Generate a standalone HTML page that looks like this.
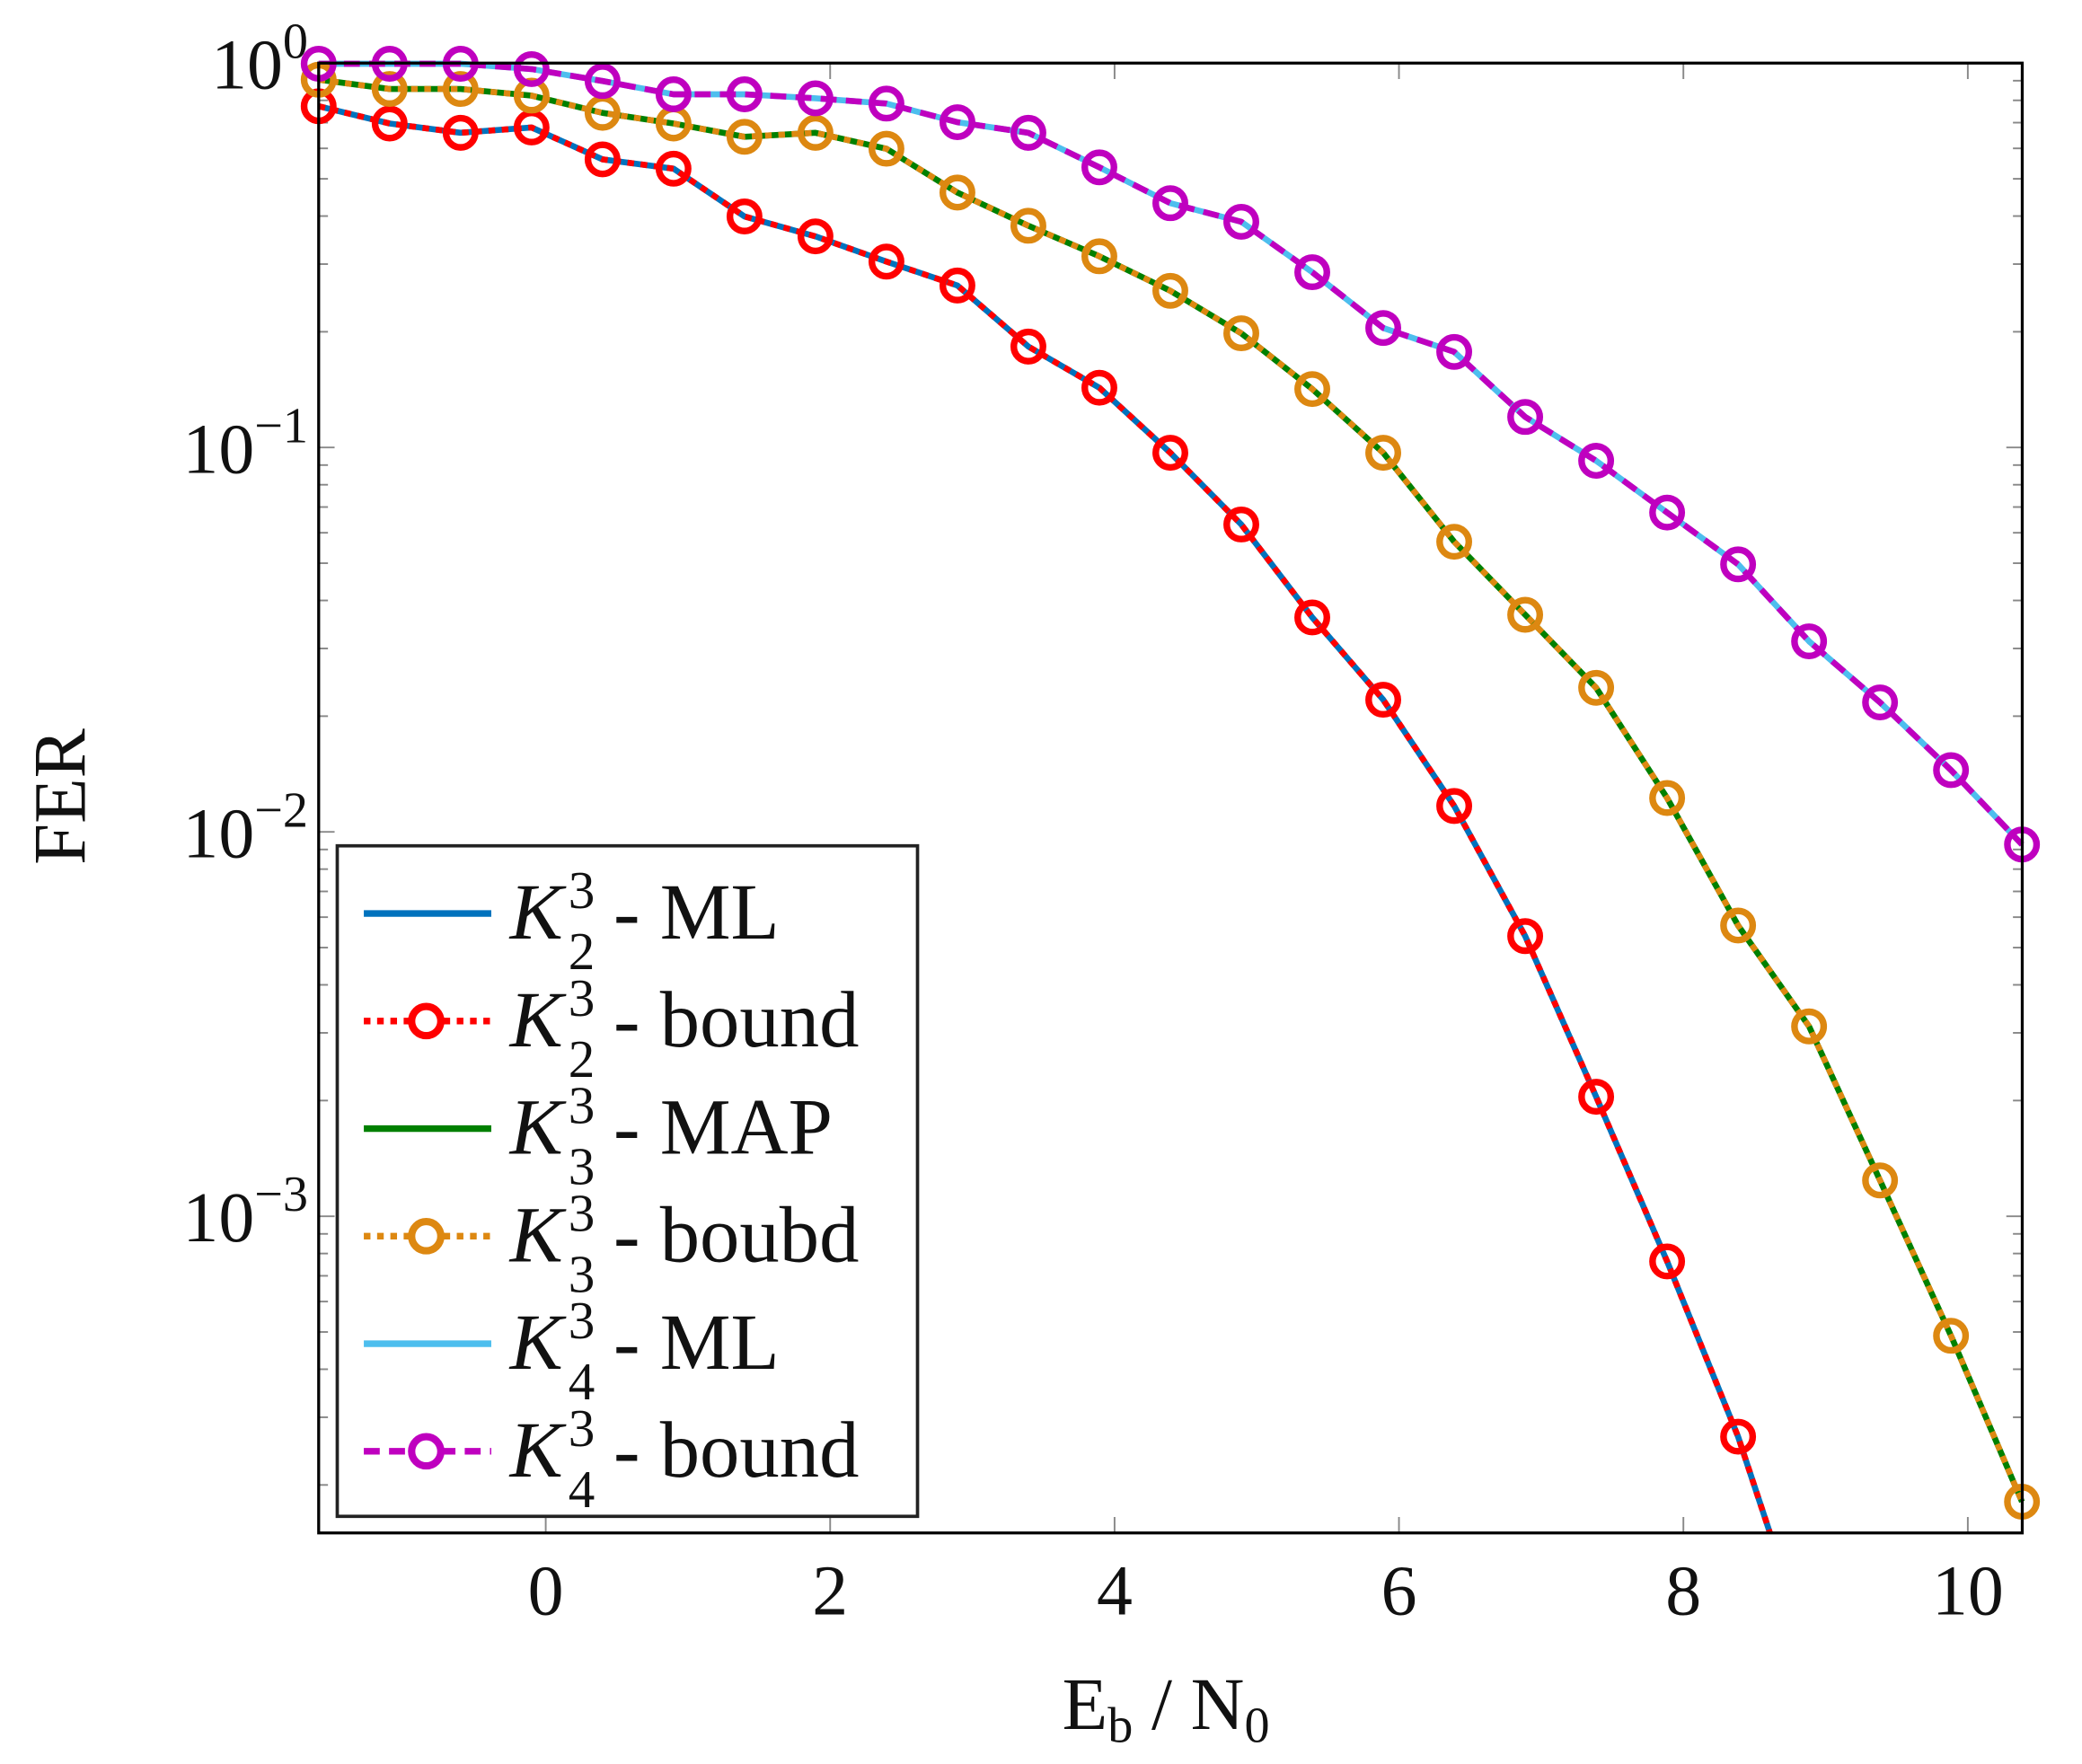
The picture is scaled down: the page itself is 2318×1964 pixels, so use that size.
<!DOCTYPE html>
<html><head><meta charset="utf-8"><style>html,body{margin:0;padding:0;background:#fff}svg{display:block}</style></head>
<body>
<svg id="s" xmlns="http://www.w3.org/2000/svg" width="2318" height="1964" viewBox="0 0 1568 1328.5" font-family="Liberation Serif, serif">
<rect x="0" y="0" width="1568" height="1328.5" fill="#fff"/>
<g id="ticks"></g>
<g id="series"></g>
<rect x="240" y="47.5" width="1283" height="1107" fill="none" stroke="#000" stroke-width="2.2"/>
<g id="labels" font-size="54" fill="#111"></g>
<g id="legend"></g>
</svg>
<script>
var NS="http://www.w3.org/2000/svg";
function el(p,t,a,txt){var e=document.createElementNS(NS,t);for(var k in a)e.setAttribute(k,a[k]);if(txt!=null)e.textContent=txt;p.appendChild(e);return e;}
var L=240,R=1523,T=47.5,B=1154.5,DEC=289.5;
function X(v){return 411+v*107.1;}
function Yd(d){return T-d*DEC;}
var tk=document.getElementById('ticks');
for(var v=0;v<=10;v+=2){var x=X(v);
 el(tk,'line',{x1:x,y1:B,x2:x,y2:B-12,stroke:'#888','stroke-width':1.3});
 el(tk,'line',{x1:x,y1:T,x2:x,y2:T+12,stroke:'#888','stroke-width':1.3});}
for(var d=0;d>=-4;d--){for(var m=1;m<=9;m++){var y=Yd(d+Math.log10(m));if(y<T-0.5||y>B)continue;var len=(m==1)?12:7;
 el(tk,'line',{x1:L,y1:y,x2:L+len,y2:y,stroke:'#888','stroke-width':1.3});
 el(tk,'line',{x1:R,y1:y,x2:R-len,y2:y,stroke:'#888','stroke-width':1.3});}}
var red=[80,93,100,96,120,127,163,178,197,215,261,292,341,395,465,527,607,705,826,950,1082];
var ora=[60,67,67,72,85,93,103,100,112,145,170,193,219,251,293,341,408,463,518,601,697,773,889,1006,1131];
var mag=[48,48,48,52,61,71,71,74,78,92,100,126,153,167,205,247,265,314,347,386,425,483,529,580,636];
function pts(a,extra){var s=[];for(var i=0;i<a.length;i++)s.push((L+i*53.45)+','+a[i]);if(extra)s.push(extra);return s.join(' ');}
var sg=document.getElementById('series');
var redExtra='1333,1154.5';
function line(p,col,dash){var a={points:p,fill:'none',stroke:col,'stroke-width':4.5,'stroke-linejoin':'round'};if(dash)a['stroke-dasharray']=dash;el(sg,'polyline',a);}
function marks(a,col){for(var i=0;i<a.length;i++)el(sg,'circle',{cx:L+i*53.45,cy:a[i],r:11,fill:'none',stroke:col,'stroke-width':5});}
line(pts(red,redExtra),'#0072BD');line(pts(red,redExtra),'#FF0000','5,5');
line(pts(ora),'#008000');line(pts(ora),'#DD8811','5,5');
line(pts(mag),'#4DBEEE');line(pts(mag),'#BF00BF','12,7');
marks(red,'#FF0000');marks(ora,'#DD8811');marks(mag,'#BF00BF');
var lb=document.getElementById('labels');
var xl=['0','2','4','6','8','10'];
for(var i=0;i<6;i++)el(lb,'text',{x:X(i*2),y:1216,'text-anchor':'middle'},xl[i]);
var yl=[[0,'0'],[-1,'−1'],[-2,'−2'],[-3,'−3']];
for(var i=0;i<4;i++){var y=Yd(yl[i][0]);var t=el(lb,'text',{x:232,y:y+19,'text-anchor':'end'});
 el(t,'tspan',{},'10');el(t,'tspan',{dy:-23,'font-size':38},yl[i][1]);}
el(lb,'text',{x:0,y:0,'font-size':56,transform:'translate(64,600) rotate(-90)','text-anchor':'middle'},'FER');
var xt=el(lb,'text',{x:800,y:1302,'font-size':56});
el(xt,'tspan',{},'E');el(xt,'tspan',{dy:10,'font-size':38},'b');el(xt,'tspan',{dy:-10},' / N');el(xt,'tspan',{dy:10,'font-size':38},'0');
var lg=document.getElementById('legend');
el(lg,'rect',{x:254,y:637,width:437,height:505,fill:'#fff',stroke:'#222','stroke-width':2.5});
var ent=[['#0072BD',null,null,'2','ML'],['#FF0000','5,5','#FF0000','2','bound'],['#008000',null,null,'3','MAP'],['#DD8811','5,5','#DD8811','3','boubd'],['#4DBEEE',null,null,'4','ML'],['#BF00BF','12,7','#BF00BF','4','bound']];
for(var i=0;i<6;i++){var y=688+i*81;var e=ent[i];
 var a={x1:274,y1:y,x2:370,y2:y,stroke:e[0],'stroke-width':5};if(e[1])a['stroke-dasharray']=e[1];el(lg,'line',a);
 if(e[2])el(lg,'circle',{cx:321,cy:y,r:11,fill:'#fff',stroke:e[2],'stroke-width':5.5});
 var t=el(lg,'text',{x:384,y:y+19,'font-size':60,fill:'#111'});
 el(t,'tspan',{'font-style':'italic','font-size':60},'K');
 el(t,'tspan',{dx:4,dy:-23,'font-size':40},'3');
 el(t,'tspan',{dx:-20,dy:46,'font-size':40},e[3]);
 el(t,'tspan',{dx:14,dy:-23},'- '+e[4]);}
</script>
</body></html>
